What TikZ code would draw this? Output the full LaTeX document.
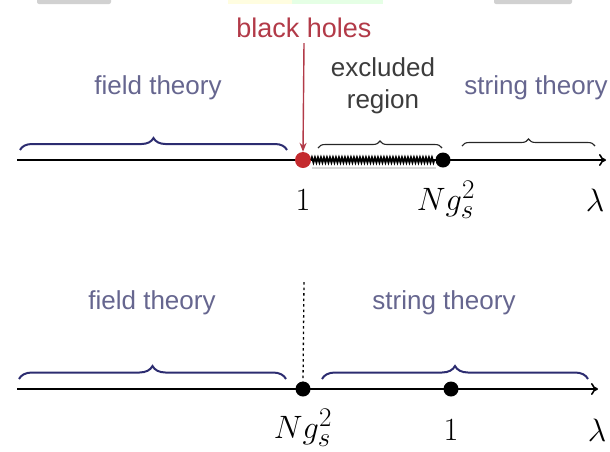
\documentclass[tikz,border=0pt]{standalone}
\usepackage[no-math]{fontspec}
\setmainfont{Liberation Sans}
\usetikzlibrary{decorations.pathreplacing,decorations.pathmorphing,arrows.meta}
\definecolor{navy}{HTML}{2C2C70}
\definecolor{txtblue}{HTML}{66668F}
\definecolor{bhred}{HTML}{B23A48}
\definecolor{dotred}{HTML}{C42A2E}
\definecolor{exgrey}{HTML}{3C3C3C}
\begin{document}
\begin{tikzpicture}[x=1pt,y=1pt,
  lbl/.style={font=\fontsize{26}{32}\selectfont, text=txtblue, inner sep=0pt},
  mlbl/.style={font=\fontsize{24.88}{30}\selectfont, inner sep=0pt, scale=1.3, transform shape},
  axisline/.style={line width=2.8pt, -{To[length=7pt,width=12pt,line width=1.6pt]}},
  bigbrace/.style={decorate, decoration={brace, amplitude=#1}, draw=navy, line width=2pt},
  thinbrace/.style={decorate, decoration={brace, amplitude=#1}, draw=black!85, line width=1.1pt},
  dot/.style={circle, fill=black, inner sep=0pt, minimum size=15pt},
  reddot/.style={circle, fill=dotred, inner sep=0pt, minimum size=16pt}
]
\useasboundingbox (0,-451) rectangle (610,0);
% top-edge remnants
\fill[black!18, rounded corners=2pt] (37,-4) rectangle (111,3);
\fill[black!18, rounded corners=2pt] (494,-4) rectangle (572,3);
\fill[yellow!12] (228,-4) rectangle (292,0);
\fill[green!10] (292,-4) rectangle (383,0);

% ---------- top diagram ----------
\coordinate (tA) at (17,-160);
\coordinate (tB) at (606,-160);
\draw[axisline] (tA) -- (tB);
\draw[black!15, line width=2.5pt] (312,-168) -- (436,-168);
\node[reddot] (r1) at (303,-160) {};
\node[dot] (b1) at (443,-160) {};
\draw[decorate, decoration={zigzag, segment length=3pt, amplitude=2.4pt}, line width=1.9pt]
  (r1.east) -- (b1.west);

\node[font=\fontsize{27}{32}\selectfont, text=bhred, inner sep=0pt] (bh) at (304,-28) {black holes};
\draw[bhred, line width=1.4pt, -{Stealth[length=9pt,width=7pt]}] (bh.south) ++(0,-5) coordinate (bhs) -- (r1.north);

\node[lbl] (ft1) at (158,-88) {field theory};
\node[lbl, text=exgrey, align=center] (ex) at (383,-86) {excluded\\region};
\node[lbl] (st1) at (536,-88) {string theory};

\draw[bigbrace=12pt] (20,-150) -- (287,-150);
\draw[thinbrace=7pt] (318,-148) -- (442,-148);
\draw[thinbrace=7pt] (462,-146) -- (595,-146);

\node[mlbl] (one1) at (303,-200) {$1$};
\node[mlbl] (ng1) at (446,-200) {$Ng_s^2$};
\node[mlbl] (lam1) at (595,-200) {$\lambda$};

% ---------- bottom diagram ----------
\coordinate (bA) at (17,-389);
\coordinate (bB) at (598,-389);
\draw[axisline] (bA) -- (bB);
\node[dot] (b2) at (303,-389) {};
\node[dot] (o2) at (451,-389) {};
\coordinate (dtop) at (304,-282);
\draw[line width=1.3pt, dash pattern=on 2.5pt off 3pt] (dtop) -- (b2.north);

\node[lbl] (ft2) at (152,-303) {field theory};
\node[lbl] (st2) at (444,-303) {string theory};

\draw[bigbrace=13pt] (19,-379) -- (286,-379);
\draw[bigbrace=13pt] (322,-379) -- (588,-379);

\node[mlbl] (ng2) at (303,-428) {$Ng_s^2$};
\node[mlbl] (one2) at (451,-430) {$1$};
\node[mlbl] (lam2) at (597,-430) {$\lambda$};
\end{tikzpicture}
\end{document}
